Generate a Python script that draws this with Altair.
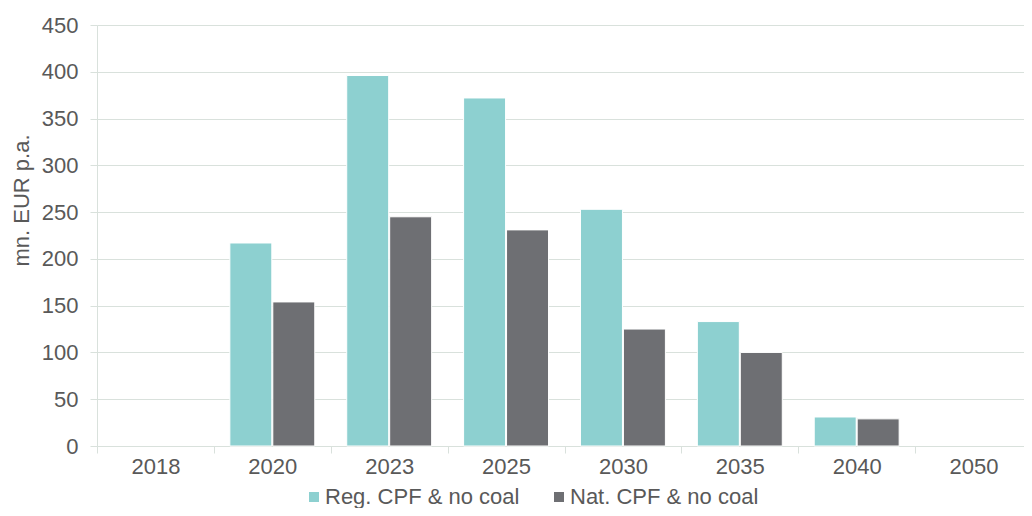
import altair as alt
import pandas as pd

years = ["2018", "2020", "2023", "2025", "2030", "2035", "2040", "2050"]
series_names = ["Reg. CPF & no coal", "Nat. CPF & no coal"]
bar_years = ["2020", "2023", "2025", "2030", "2035", "2040"]
reg_values = [217, 396, 372, 253, 133, 31]
nat_values = [154, 245, 231, 125, 100, 29]
y_ticks = [0, 50, 100, 150, 200, 250, 300, 350, 400, 450]
colors = ["#8DD0D0", "#6E6F73"]

rows = []
for y, r, n in zip(bar_years, reg_values, nat_values):
    rows.append({"year": y, "series": series_names[0], "value": r})
    rows.append({"year": y, "series": series_names[1], "value": n})
df = pd.DataFrame(rows)

FONT = "Liberation Sans"
TXT = "#595959"
GRID = "#D9E1DC"

chart = alt.Chart(df).mark_bar(stroke="white", strokeWidth=1).encode(
    x=alt.X(
        "year:N",
        scale=alt.Scale(domain=years, paddingInner=0, paddingOuter=0, range=[0, 935]),
        axis=alt.Axis(
            title=None, labelAngle=0, tickBand="extent", grid=False,
            domainColor=GRID, tickColor=GRID, tickSize=7, labelPadding=3,
            labelFontSize=22, labelColor=TXT, labelFont=FONT,
        ),
    ),
    xOffset=alt.XOffset(
        "series:N",
        scale=alt.Scale(domain=series_names, paddingInner=0.023, paddingOuter=0.372),
    ),
    y=alt.Y(
        "value:Q",
        scale=alt.Scale(domain=[0, 450], nice=False),
        axis=alt.Axis(
            values=y_ticks, title="mn. EUR p.a.", grid=True, gridColor=GRID,
            domainColor=GRID, tickColor=GRID, tickSize=7, labelPadding=12,
            labelFontSize=22, labelColor=TXT, labelFont=FONT,
            titleFontSize=22, titleColor=TXT, titleFont=FONT, titleFontWeight="normal",
            titleX=-76, titleY=175, titleBaseline="middle",
        ),
    ),
    color=alt.Color(
        "series:N",
        scale=alt.Scale(domain=series_names, range=colors),
        legend=alt.Legend(
            title=None, orient="none", legendX=206, legendY=461, direction="horizontal",
            symbolType="square", symbolSize=100, symbolStrokeWidth=0,
            labelFontSize=22, labelColor=TXT, labelFont=FONT, labelOffset=0,
            labelLimit=400, columnPadding=28,
        ),
    ),
).properties(
    width=927,
    height=421,
    autosize=alt.AutoSizeParams(type="none"),
    padding={"left": 89, "top": 17, "right": 0, "bottom": 62},
).configure_view(stroke=None)

chart.save("out.html", embed_options={"renderer": "svg", "actions": False})
